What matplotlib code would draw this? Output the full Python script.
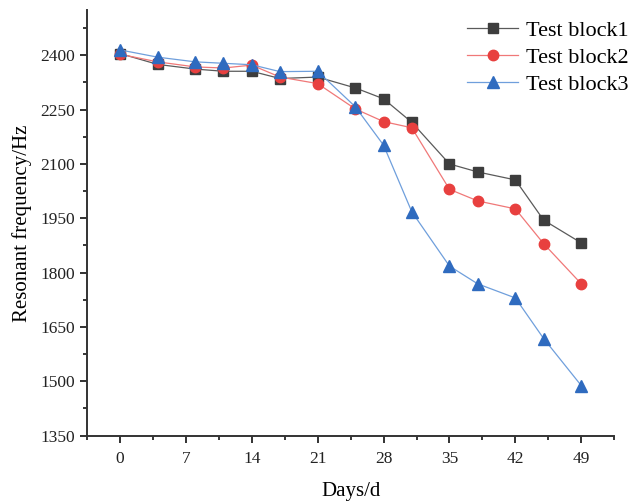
import numpy as np
import matplotlib.pyplot as plt
from matplotlib.ticker import MultipleLocator

plt.rcParams['font.family'] = ['Liberation Serif', 'DejaVu Serif']

days = [0, 4, 8, 11, 14, 17, 21, 25, 28, 31, 35, 38, 42, 45, 49]
block1 = [2405, 2375, 2362, 2356, 2356, 2336, 2340, 2310, 2280, 2215, 2100, 2078, 2056, 1945, 1882]
block2 = [2403, 2382, 2368, 2365, 2373, 2340, 2322, 2252, 2217, 2200, 2030, 1998, 1976, 1880, 1769]
block3 = [2415, 2395, 2382, 2378, 2374, 2355, 2356, 2258, 2152, 1968, 1818, 1769, 1730, 1618, 1488]

fig = plt.figure(figsize=(6.3, 5.03), dpi=100)
ax = fig.add_axes([0.138, 0.134, 0.837, 0.846])

ax.plot(days, block1, color='#5a5a5a', lw=0.9, marker='s', ms=7,
        mfc='#3d3d3d', mec='#3d3d3d', label='Test block1')
ax.plot(days, block2, color='#f07878', lw=0.9, marker='o', ms=7.5,
        mfc='#e8403f', mec='#e8403f', label='Test block2')
ax.plot(days, block3, color='#6f9fdc', lw=0.9, marker='^', ms=8.5,
        mfc='#2f6bbf', mec='#2f6bbf', label='Test block3')

ax.set_xlim(-3.5, 52.5)
ax.set_ylim(1350, 2525)
ax.set_xticks(np.arange(0, 50, 7))
ax.set_yticks(np.arange(1350, 2401, 150))
ax.xaxis.set_minor_locator(MultipleLocator(3.5))
ax.yaxis.set_minor_locator(MultipleLocator(75))
ax.tick_params(which='major', direction='out', length=5, width=1.3, labelsize=12.5, colors='#222222')
ax.tick_params(axis='x', which='major', pad=6)
ax.tick_params(which='minor', direction='out', length=3, width=1.1)

for s in ['top', 'right']:
    ax.spines[s].set_visible(False)
for s in ['left', 'bottom']:
    ax.spines[s].set_linewidth(1.4)
    ax.spines[s].set_color('#333333')

ax.set_xlabel('Days/d', fontsize=15, labelpad=11)
ax.set_ylabel('Resonant frequency/Hz', fontsize=15, labelpad=6)

ax.legend(loc='upper right', bbox_to_anchor=(0.998, 0.96), bbox_transform=fig.transFigure,
          frameon=False, fontsize=16, borderaxespad=0, borderpad=0,
          handlelength=2.3, handletextpad=0.35, labelspacing=0.3)

fig.savefig('out.png', dpi=100)
